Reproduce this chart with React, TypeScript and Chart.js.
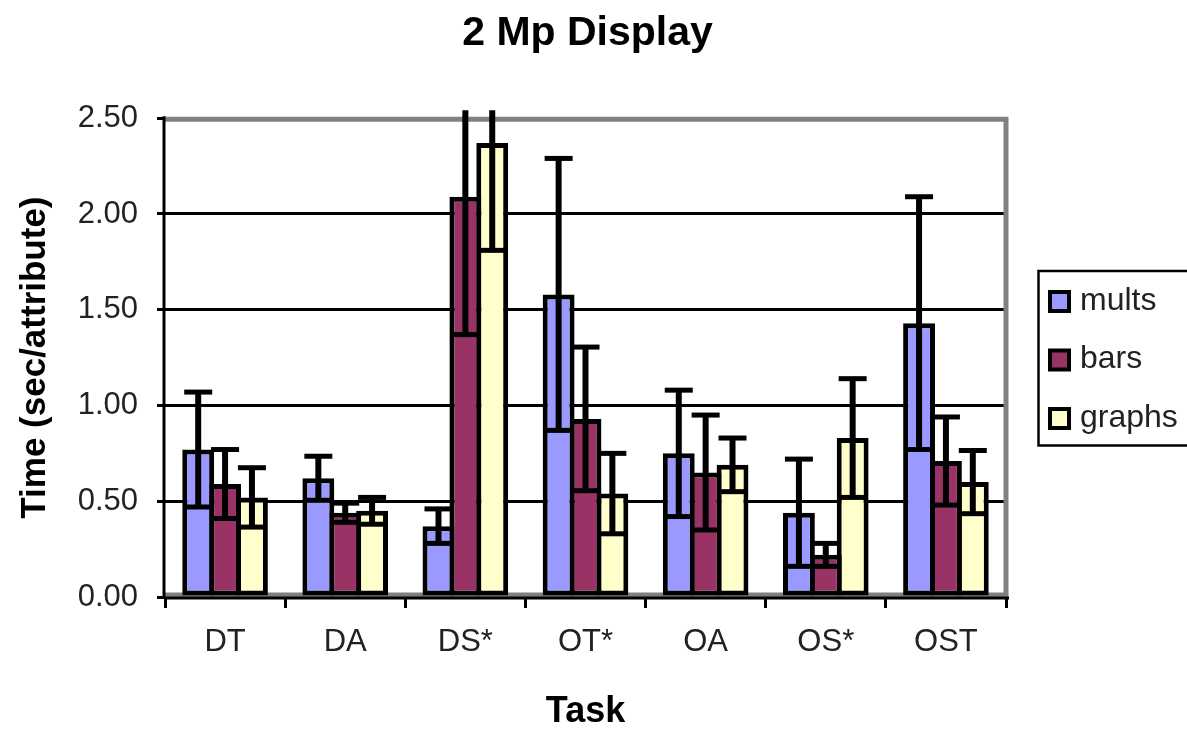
import React, { useEffect, useRef } from 'react';
import { Chart, registerables } from 'chart.js';

Chart.register(...registerables);

const categories = ['DT', 'DA', 'DS*', 'OT*', 'OA', 'OS*', 'OST'];
const seriesNames = ['mults', 'bars', 'graphs'];
const seriesColors = ['#9999FF', '#993366', '#FFFFCC'];

const multsValues = [0.77, 0.62, 0.37, 1.58, 0.75, 0.44, 1.43];
const multsErrors = [0.30, 0.115, 0.09, 0.71, 0.33, 0.28, 0.66];
const barsValues = [0.59, 0.44, 2.09, 0.93, 0.65, 0.22, 0.71];
const barsErrors = [0.18, 0.05, 0.72, 0.375, 0.30, 0.06, 0.23];
const graphsValues = [0.52, 0.45, 2.37, 0.54, 0.69, 0.83, 0.60];
const graphsErrors = [0.155, 0.07, 0.56, 0.21, 0.14, 0.31, 0.165];

const yTickValues = [0, 0.5, 1.0, 1.5, 2.0, 2.5];

const FONT = "'Liberation Sans', Arial, sans-serif";

export default function App() {
  const ref = useRef<HTMLCanvasElement | null>(null);

  useEffect(() => {
    const canvas = ref.current;
    if (!canvas) return;
    const errorSets = [multsErrors, barsErrors, graphsErrors];

    const framePlugin = {
      id: 'frame',
      beforeDatasetsDraw(chart: any) {
        const { ctx, chartArea } = chart;
        const { left, right, top, bottom } = chartArea;
        ctx.save();
        ctx.strokeStyle = '#808080';
        ctx.lineWidth = 5;
        ctx.beginPath();
        ctx.moveTo(left, top + 1);
        ctx.lineTo(right, top + 1);
        ctx.lineTo(right, bottom - 2);
        ctx.lineTo(left, bottom - 2);
        ctx.stroke();
        ctx.strokeStyle = '#000';
        ctx.lineWidth = 3;
        ctx.beginPath();
        ctx.moveTo(left - 1, bottom + 1);
        ctx.lineTo(right + 3, bottom + 1);
        ctx.stroke();
        ctx.beginPath();
        ctx.moveTo(left - 1, top - 2);
        ctx.lineTo(left - 1, bottom + 1);
        ctx.stroke();
        ctx.restore();
      },
    };

    const errorBarPlugin = {
      id: 'errorBars',
      afterDatasetsDraw(chart: any) {
        const ctx = chart.ctx;
        const yScale = chart.scales.y;
        const limit = chart.chartArea.top - 8;
        ctx.save();
        ctx.strokeStyle = '#000';
        ctx.lineCap = 'butt';
        chart.data.datasets.forEach((ds: any, i: number) => {
          const meta = chart.getDatasetMeta(i);
          meta.data.forEach((bar: any, j: number) => {
            const v = ds.data[j];
            const e = errorSets[i][j];
            const x = bar.x;
            const half = 14;
            const yLo = yScale.getPixelForValue(v - e);
            const yHiRaw = yScale.getPixelForValue(v + e);
            const yHi = Math.max(yHiRaw, limit);
            ctx.lineWidth = 6;
            ctx.beginPath();
            ctx.moveTo(x, yLo);
            ctx.lineTo(x, yHi);
            ctx.stroke();
            ctx.lineWidth = 5;
            ctx.beginPath();
            ctx.moveTo(x - half, yLo);
            ctx.lineTo(x + half, yLo);
            ctx.stroke();
            if (yHiRaw >= limit) {
              ctx.beginPath();
              ctx.moveTo(x - half, yHiRaw);
              ctx.lineTo(x + half, yHiRaw);
              ctx.stroke();
            }
          });
        });
        ctx.restore();
      },
    };

    const legendPlugin = {
      id: 'boxLegend',
      afterDraw(chart: any) {
        const ctx = chart.ctx;
        ctx.save();
        ctx.strokeStyle = '#000';
        ctx.lineWidth = 2.5;
        ctx.strokeRect(1038.5, 271, 170, 174.5);
        const ys = [301, 359.5, 418];
        seriesNames.forEach((name, i) => {
          const cy = ys[i];
          ctx.fillStyle = '#000';
          ctx.fillRect(1048, cy - 11, 23, 23);
          ctx.fillStyle = seriesColors[i];
          ctx.fillRect(1052, cy - 7, 15, 15);
          ctx.fillStyle = '#222';
          ctx.font = `32px ${FONT}`;
          ctx.textBaseline = 'middle';
          ctx.textAlign = 'left';
          ctx.fillText(name, 1080, cy);
        });
        ctx.restore();
      },
    };

    const valueSets = [multsValues, barsValues, graphsValues];

    const chart = new Chart(canvas, {
      type: 'bar',
      data: {
        labels: categories,
        datasets: seriesNames.map((name, i) => ({
          label: name,
          data: valueSets[i],
          backgroundColor: seriesColors[i],
          borderColor: '#000',
          borderWidth: 5,
          borderSkipped: false,
          categoryPercentage: 0.671,
          barPercentage: 1.186,
        })),
      },
      options: {
        responsive: false,
        animation: false,
        devicePixelRatio: 1,
        layout: { padding: { left: 0, right: 12, top: 0, bottom: 0 } },
        plugins: {
          legend: { display: false },
          tooltip: { enabled: false },
          title: {
            display: true,
            text: '2 Mp Display',
            color: '#000',
            font: { family: FONT, size: 41, weight: 'bold' },
            padding: { top: 9, bottom: 60 },
          },
        },
        scales: {
          x: {
            type: 'category',
            position: 'bottom',
            grid: {
              display: true,
              drawOnChartArea: false,
              drawTicks: true,
              tickLength: 11,
              tickColor: '#000',
              tickWidth: 3,
              offset: true,
            },
            border: { display: false },
            ticks: {
              color: '#222',
              font: { family: FONT, size: 31 },
              padding: 16,
              maxRotation: 0,
              autoSkip: false,
            },
            title: {
              display: true,
              text: 'Task',
              color: '#000',
              font: { family: FONT, size: 36, weight: 'bold', lineHeight: 0.9 },
              padding: { top: 0, bottom: 1 },
            },
            afterFit: (s: any) => {
              s.height = 132;
            },
          },
          y: {
            type: 'linear',
            position: 'left',
            min: 0,
            max: 2.5,
            afterBuildTicks: (s: any) => {
              s.ticks = yTickValues.map((v) => ({ value: v }));
            },
            grid: {
              color: (c: any) =>
                c.tick && (c.tick.value === 0 || c.tick.value === 2.5) ? 'rgba(0,0,0,0)' : '#000',
              lineWidth: 3,
              drawTicks: true,
              tickLength: 8,
              tickColor: '#000',
              tickWidth: 3,
            },
            border: { display: false },
            ticks: {
              color: '#222',
              font: { family: FONT, size: 31 },
              padding: 19,
              callback: (v: any) => Number(v).toFixed(2),
            },
            title: {
              display: true,
              text: 'Time (sec/attribute)',
              color: '#000',
              font: { family: FONT, size: 35, weight: 'bold' },
              padding: { top: 14, bottom: 0 },
            },
            afterFit: (s: any) => {
              s.width = 165;
            },
          },
          legendSpace: {
            type: 'linear',
            position: 'right',
            display: true,
            grid: { display: false, drawTicks: false },
            border: { display: false },
            ticks: { display: false },
            title: { display: false },
            afterFit: (s: any) => {
              s.width = 169;
            },
          },
        },
      },
      plugins: [framePlugin, errorBarPlugin, legendPlugin],
    } as any);

    return () => {
      chart.destroy();
    };
  }, []);

  return (
    <div style={{ position: 'fixed', left: 0, top: 0, width: 1187, height: 729, background: '#fff' }}>
      <canvas ref={ref} width={1187} height={729} style={{ display: 'block', width: 1187, height: 729 }} />
    </div>
  );
}
